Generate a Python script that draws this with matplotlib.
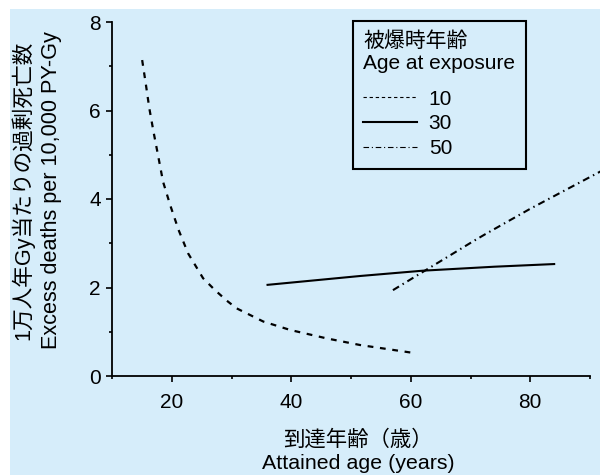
import matplotlib.pyplot as plt
from matplotlib.lines import Line2D
from matplotlib.patches import Rectangle

plt.rcParams['font.family'] = ['Liberation Sans', 'Noto Sans CJK JP']

# data
#
age10_x = [15.0, 15.6, 16.2, 16.9, 17.7, 18.5, 19.7, 21.1, 22.7, 25.2, 27.2, 29.2, 30.8, 35.3, 39.8, 45.9, 51.5, 60.0]
age10_y = [7.14, 6.61, 6.05, 5.52, 4.96, 4.39, 3.86, 3.30, 2.77, 2.21, 1.94, 1.70, 1.53, 1.23, 1.04, 0.85, 0.70, 0.53]

age30_x = [36.0, 51.5, 62.0, 74.0, 84.0]
age30_y = [2.06, 2.26, 2.38, 2.47, 2.53]

age50_x = [57.0, 62.1, 66.0, 70.5, 72.4, 80.0, 92.0]
age50_y = [1.94, 2.36, 2.68, 3.05, 3.20, 3.78, 4.64]

legend_labels = ['10', '30', '50']
legend_title = '被爆時年齢\nAge at exposure'
x_label = '到達年齢（歳）\nAttained age (years)'
y_label = '1万人年Gy当たりの過剰死亡数\nExcess deaths per 10,000 PY-Gy'

bg = '#d6edfa'

# figure
#
fig = plt.figure(figsize=(6, 4.75), dpi=100)
fig.add_artist(Rectangle((10 / 600, 0), 1, 466 / 475, transform=fig.transFigure,
                         facecolor=bg, edgecolor='none', zorder=-1))
ax = fig.add_axes([112.3 / 600, 1 - 376 / 475, (590 - 112.3) / 600, (376 - 22) / 475])
ax.set_facecolor('none')

# plot
#
ax.plot(age10_x, age10_y, color='black', lw=1.6, dashes=(2.6, 3.0))
ax.plot(age30_x, age30_y, color='black', lw=1.5)
ax.plot(age50_x, age50_y, color='black', lw=1.5, dashes=(3.4, 2.0, 0.7, 2.0), clip_on=False)

# axes
#
ax.set_xlim(10, 90)
ax.set_ylim(0, 8)
ax.set_xticks([20, 40, 60, 80])
ax.set_xticks([10, 30, 50, 70, 90], minor=True)
ax.set_yticks([0, 2, 4, 6, 8])
ax.set_yticks([1, 3, 5, 7], minor=True)
for side in ['top', 'right']:
    ax.spines[side].set_visible(False)
for side in ['left', 'bottom']:
    ax.spines[side].set_linewidth(1.3)
ax.tick_params(which='major', direction='out', length=4.3, width=1.2, labelsize=15)
ax.tick_params(which='minor', direction='out', length=2.2, width=1.2)
ax.tick_params(axis='x', which='major', pad=8)
ax.tick_params(axis='y', which='major', pad=4)

ax.set_xlabel(x_label, fontsize=15.4, labelpad=12.5, linespacing=1.28)
ax.xaxis.label.set_x(0.514)
ax.set_ylabel(y_label, fontsize=15.6, labelpad=19.5, linespacing=1.4)
ax.yaxis.label.set_y(0.525)

# legend
#
handles = [
    Line2D([], [], color='black', lw=0.8, dashes=(3, 2.5)),
    Line2D([], [], color='black', lw=1.5),
    Line2D([], [], color='black', lw=0.8, dashes=(5, 2.5, 1, 2.5)),
]
leg = ax.legend(handles, legend_labels, title=legend_title, alignment='left',
                loc='upper left', bbox_to_anchor=(352.7 / 600, 1 - 20.7 / 475),
                bbox_transform=fig.transFigure, borderaxespad=0,
                fontsize=15, title_fontsize=15, fancybox=False,
                edgecolor='black', facecolor=bg, framealpha=1,
                handlelength=2.6, handletextpad=0.55, labelspacing=0.28, borderpad=0.5)
leg.get_frame().set_linewidth(1.5)
leg._legend_box.sep = 12

fig.savefig('out.png', dpi=100)
